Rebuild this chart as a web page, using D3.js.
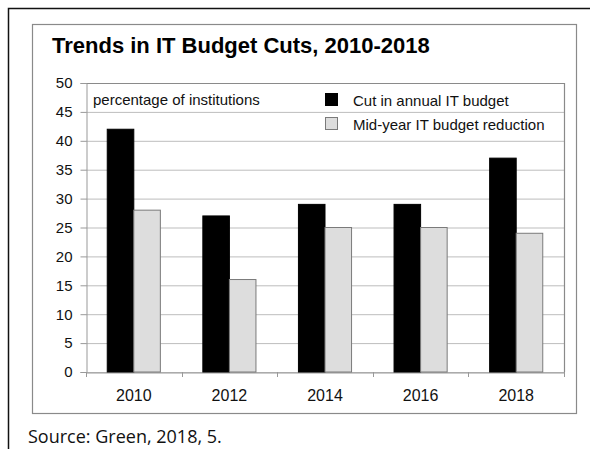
<!DOCTYPE html>
<html>
<head>
<meta charset="utf-8">
<script src="https://cdn.jsdelivr.net/npm/d3@7"></script>
<style>
  body { margin: 0; background: #fff; }
  svg { display: block; }
</style>
</head>
<body>
<div id="chart"></div>
<script>
const width = 590;
const height = 449;

// data
const years = ["2010", "2012", "2014", "2016", "2018"];
const cutAnnual = [42, 27, 29, 29, 37];
const midYear = [28, 16, 25, 25, 24];
const seriesNames = ["Cut in annual IT budget", "Mid-year IT budget reduction"];
const yTicks = [0, 5, 10, 15, 20, 25, 30, 35, 40, 45, 50];

const seriesColors = ["#000000", "#dddddd"];

const plot = { left: 86, right: 564, top: 83, bottom: 372 };

const svg = d3.select("#chart").append("svg")
    .attr("width", width)
    .attr("height", height);

svg.append("rect").attr("width", width).attr("height", height).attr("fill", "#fff");

// outer black frame (runs off the right/bottom)
svg.append("rect")
    .attr("x", 8.5).attr("y", 8.5)
    .attr("width", 700).attr("height", 600)
    .attr("fill", "none")
    .attr("stroke", "#111")
    .attr("stroke-width", 1.5);

// inner gray frame
svg.append("rect")
    .attr("x", 32.5).attr("y", 24.5)
    .attr("width", 544).attr("height", 389)
    .attr("fill", "none")
    .attr("stroke", "#8a8a8a")
    .attr("stroke-width", 1.2);

svg.append("text")
    .attr("x", 52).attr("y", 53)
    .attr("font-family", "Liberation Sans, Arial, sans-serif")
    .attr("font-weight", "bold")
    .attr("font-size", 22)
    .attr("fill", "#000")
    .text("Trends in IT Budget Cuts, 2010-2018");

const xScale = d3.scaleBand()
    .domain(years)
    .range([plot.left, plot.right])
    .paddingInner(0)
    .paddingOuter(0);

const xSub = d3.scaleBand()
    .domain([0, 1])
    .range([0, xScale.bandwidth()])
    .paddingOuter(0.8)
    .paddingInner(0);

const yScale = d3.scaleLinear()
    .domain([0, 50])
    .range([plot.bottom, plot.top]);

// gridlines
svg.append("g")
    .attr("class", "gridlines")
    .attr("transform", `translate(${plot.left}, 0)`)
    .call(d3.axisLeft(yScale).tickValues(yTicks).tickFormat("").tickSize(-(plot.right - plot.left)))
    .call(g => g.select(".domain").remove())
    .call(g => g.selectAll("line").attr("stroke", "#bdbdbd").attr("stroke-width", 1));

// plot border (top and right)
svg.append("path")
    .attr("d", `M${plot.left},${plot.top + 0.5}H${plot.right + 0.5}V${plot.bottom}`)
    .attr("fill", "none")
    .attr("stroke", "#8a8a8a")
    .attr("stroke-width", 1.2);

// y axis
const yAxis = svg.append("g")
    .attr("transform", `translate(${plot.left + 0.5}, 0)`)
    .call(d3.axisLeft(yScale).tickValues(yTicks).tickSize(6).tickPadding(8));
yAxis.select(".domain").attr("stroke", "#999");
yAxis.selectAll("line").attr("stroke", "#999");
yAxis.selectAll("text")
    .attr("font-family", "Liberation Sans, Arial, sans-serif")
    .attr("font-size", 15)
    .attr("fill", "#111");

// x axis
const xAxis = svg.append("g")
    .attr("transform", `translate(0, ${plot.bottom + 0.5})`)
    .call(d3.axisBottom(xScale).tickSize(0).tickPadding(17));
xAxis.select(".domain").attr("stroke", "#999");
xAxis.selectAll("text")
    .attr("font-family", "Liberation Sans, Arial, sans-serif")
    .attr("font-size", 16)
    .attr("fill", "#111");

// category boundary ticks
svg.append("g")
    .selectAll("line")
    .data(years.concat(["end"]))
    .join("line")
    .attr("x1", (d, i) => Math.round(plot.left + i * xScale.step()) + 0.5)
    .attr("x2", (d, i) => Math.round(plot.left + i * xScale.step()) + 0.5)
    .attr("y1", plot.bottom)
    .attr("y2", plot.bottom + 5)
    .attr("stroke", "#999");

// bars
const groups = svg.append("g").attr("class", "bars")
    .selectAll("g")
    .data(years)
    .join("g")
    .attr("transform", d => `translate(${xScale(d)}, 0)`);

groups.selectAll("rect")
    .data((d, i) => [cutAnnual[i], midYear[i]])
    .join("rect")
    .attr("x", (d, j) => xSub(j))
    .attr("y", d => yScale(d))
    .attr("width", xSub.bandwidth())
    .attr("height", d => yScale(0) - yScale(d))
    .attr("fill", (d, j) => seriesColors[j])
    .attr("stroke", (d, j) => j === 0 ? "#000" : "#7a7a7a")
    .attr("stroke-width", 1);

// axis label inside plot
svg.append("text")
    .attr("x", 93).attr("y", 105)
    .attr("font-family", "Liberation Sans, Arial, sans-serif")
    .attr("font-size", 15)
    .attr("fill", "#111")
    .text("percentage of institutions");

// legend
const legend = svg.append("g").attr("transform", "translate(325, 0)");
seriesNames.forEach((name, i) => {
    const y = 93 + i * 24;
    legend.append("rect")
        .attr("x", 0.5).attr("y", y + 0.5)
        .attr("width", 12).attr("height", 12)
        .attr("fill", seriesColors[i])
        .attr("stroke", i === 0 ? "#000" : "#7a7a7a");
    legend.append("text")
        .attr("x", 28).attr("y", y + 13)
        .attr("font-family", "Liberation Sans, Arial, sans-serif")
        .attr("font-size", 15)
        .attr("fill", "#111")
        .text(name);
});

// source note
svg.append("text")
    .attr("x", 28).attr("y", 443)
    .attr("font-family", "Open Sans, Noto Sans, sans-serif")
    .attr("font-size", 18)
    .attr("fill", "#111")
    .text("Source: Green, 2018, 5.");
</script>
</body>
</html>
